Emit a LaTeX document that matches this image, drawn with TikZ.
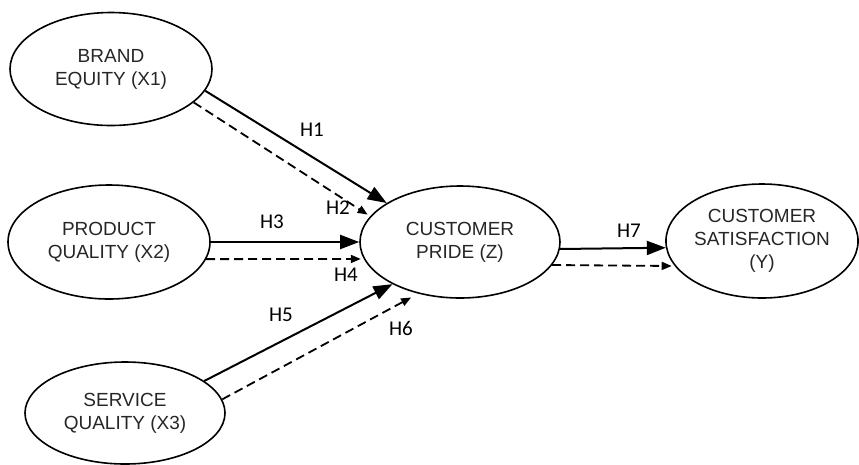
\documentclass[tikz,border=0pt]{standalone}
\usepackage{fontspec}
\setmainfont{Liberation Sans}
\newfontfamily\hfont{Carlito}
\usepackage{tikz}
\usetikzlibrary{arrows.meta,shapes.geometric}

\begin{document}
\begin{tikzpicture}[x=1pt,y=-1pt,
  var/.style={ellipse, draw, line width=1.6pt, inner sep=0pt, align=center, text=black!85, font=\fontsize{19}{23}\selectfont},
  eff/.style={line width=2pt, -{Triangle[length=19pt,width=14pt]}},
  effd/.style={line width=1.8pt, dash pattern=on 9pt off 5pt, -{Triangle[length=10pt,width=8pt]}, shorten >=3pt},
  hyp/.style={font=\hfont\fontsize{21}{21}\selectfont}]
\useasboundingbox (0,0) rectangle (859,464);
\node[var, minimum width=202pt, minimum height=113pt] (brand) at (111,69) {BRAND\\EQUITY (X1)};
\node[var, minimum width=202pt, minimum height=114pt] (product) at (109,242) {PRODUCT\\QUALITY (X2)};
\node[var, minimum width=200pt, minimum height=102pt] (service) at (125,413) {SERVICE\\QUALITY (X3)};
\node[var, minimum width=200pt, minimum height=112pt] (pride) at (460,242) {CUSTOMER\\PRIDE (Z)};
\node[var, minimum width=190pt, minimum height=114pt] (satisfaction) at (762,241) {CUSTOMER\\SATISFACTION\\(Y)};
\draw[eff] (brand.-13) -- (pride.152);
\draw[effd] (brand.-22.5) -- (pride.164);
\draw[eff] (product.east) -- (pride.west);
\draw[effd] (product.-10) -- (pride.190);
\draw[eff] (service.22) -- (pride.212);
\draw[effd, shorten >=8pt] (service.8) -- (pride.231);
\draw[eff] (pride.-4) -- (satisfaction.184);
\draw[effd] (pride.-14) -- (satisfaction.196);
\node[hyp] (h1) at (312,130) {H1};
\node[hyp] (h2) at (338,208) {H2};
\node[hyp] (h3) at (272,222) {H3};
\node[hyp] (h4) at (346,275) {H4};
\node[hyp] (h5) at (281,315) {H5};
\node[hyp] (h6) at (401,328) {H6};
\node[hyp] (h7) at (629,231) {H7};
\end{tikzpicture}
\end{document}
